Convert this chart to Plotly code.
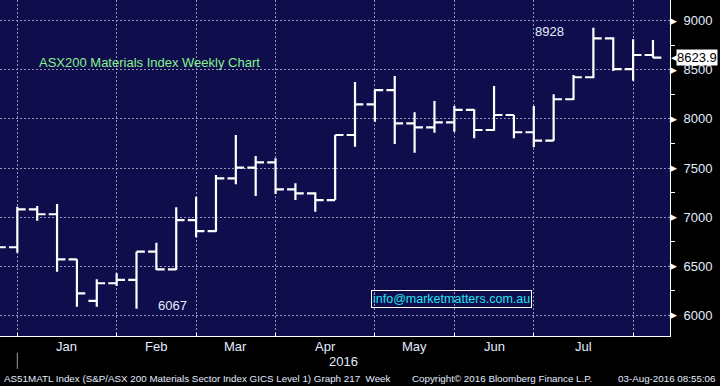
import plotly.graph_objects as go
import pandas as pd

# ---- data (weekly bars, dated by week-ending Friday) ----
week_dates = [
    "2015-12-18", "2015-12-25", "2016-01-01", "2016-01-08", "2016-01-15", "2016-01-22",
    "2016-01-29", "2016-02-05", "2016-02-12", "2016-02-19", "2016-02-26", "2016-03-04",
    "2016-03-11", "2016-03-18", "2016-03-25", "2016-04-01", "2016-04-08", "2016-04-15",
    "2016-04-22", "2016-04-29", "2016-05-06", "2016-05-13", "2016-05-20", "2016-05-27",
    "2016-06-03", "2016-06-10", "2016-06-17", "2016-06-24", "2016-07-01", "2016-07-08",
    "2016-07-15", "2016-07-22", "2016-07-29", "2016-08-05",
]
open_px = [6760, 6693, 7079, 7029, 6570, 6146, 6326, 6360, 6648, 6468, 6970, 6858,
           7395, 7503, 7558, 7283, 7242, 7173, 7836, 8149, 8294, 7955, 7914, 7965,
           8091, 7887, 8040, 7864, 7778, 8200, 8424, 8821, 8508, 8651]
high_px = [6790, 7106, 7113, 7133, 6570, 6367, 6428, 6648, 6739, 7100, 7208, 7429,
           7836, 7622, 7599, 7344, 7253, 7836, 8376, 8294, 8437, 8067, 8182, 8131,
           8098, 8335, 8040, 8131, 8251, 8447, 8928, 8831, 8811, 8803]
low_px = [6660, 6637, 6963, 6444, 6088, 6088, 6298, 6067, 6461, 6461, 6794, 6851,
          7334, 7215, 7235, 7173, 7055, 7173, 7717, 7972, 7744, 7656, 7859, 7870,
          7802, 7880, 7802, 7711, 7778, 8192, 8413, 8488, 8389, 8623.9]
close_px = [6693, 7079, 7029, 6570, 6224, 6326, 6360, 6648, 6468, 6970, 6858, 7395,
            7503, 7558, 7283, 7242, 7173, 7836, 8149, 8294, 7955, 7914, 7965, 8091,
            7887, 8040, 7864, 7778, 8200, 8424, 8821, 8508, 8651, 8623.9]

month_bounds = ["2015-12-25", "2016-01-29", "2016-02-26", "2016-03-25",
                "2016-04-29", "2016-05-27", "2016-06-24", "2016-07-29"]
month_names = ["Jan", "Feb", "Mar", "Apr", "May", "Jun", "Jul"]
y_ticks = [6000, 6500, 7000, 7500, 8000, 8500, 9000]
y_minor = [6250, 6750, 7250, 7750, 8250, 8750]
last_price = 8623.9
high_label = "8928"
low_label = "6067"

NAVY = "#0f0d4b"
GRID = "#9896b4"
LABEL = "#e4ecff"
FONT = "Liberation Sans, Arial, sans-serif"
FOOT = dict(size=9.8, color=LABEL, family=FONT)

fig = go.Figure(go.Ohlc(
    x=week_dates, open=open_px, high=high_px, low=low_px, close=close_px,
    increasing=dict(line=dict(color="white")),
    decreasing=dict(line=dict(color="white")),
    line=dict(width=2.2), tickwidth=0.42, hoverinfo="skip",
))

fig.update_layout(
    width=720, height=386,
    margin=dict(l=0, r=50, t=0, b=50),
    paper_bgcolor="black", plot_bgcolor=NAVY,
    showlegend=False,
    font=dict(family=FONT, color=LABEL, size=13),
)
fig.update_xaxes(
    type="date", range=["2015-12-18 21:30", "2016-08-11 00:00"],
    rangeslider_visible=False,
    tickmode="array", tickvals=month_bounds, showticklabels=False,
    ticks="inside", ticklen=3, tickcolor="white", tickwidth=1,
    showgrid=True, gridcolor=GRID, griddash="2px,2px", gridwidth=1,
    showline=True, linecolor="white", linewidth=1, zeroline=False,
)
fig.update_yaxes(
    side="right", range=[5789, 9211],
    tickmode="array", tickvals=y_ticks, ticks="",
    ticklabelstandoff=10,
    tickfont=dict(size=13, color=LABEL, family=FONT),
    showgrid=True, gridcolor=GRID, griddash="2px,2px", gridwidth=1,
    showline=True, linecolor="white", linewidth=1, zeroline=False,
    minor=dict(tickmode="array", tickvals=y_minor, ticks="outside", ticklen=4,
               tickcolor="white", showgrid=False),
)

ann = []
# arrow markers at major y ticks
for v in y_ticks:
    ann.append(dict(x=1, xref="paper", y=v, yref="y", text="▶", showarrow=False,
                    xanchor="left", yanchor="middle", xshift=-2,
                    font=dict(size=9, color="white", family="DejaVu Sans")))
# month labels centred between month boundaries
bounds = pd.to_datetime(month_bounds)
for i, name in enumerate(month_names):
    mid = bounds[i] + (bounds[i + 1] - bounds[i]) / 2
    ann.append(dict(x=mid, xref="x", y=-0.03, yref="paper", text=name, showarrow=False,
                    xanchor="center", yanchor="middle", font=dict(size=13, color=LABEL)))
ann += [
    dict(x=0.512, xref="paper", y=-0.077, yref="paper", text="2016", showarrow=False,
         xanchor="center", yanchor="middle", font=dict(size=13, color=LABEL)),
    dict(x=0.0552, xref="paper", y=0.814, yref="paper",
         text="ASX200 Materials Index Weekly Chart", showarrow=False,
         xanchor="left", yanchor="middle", font=dict(size=13, color="#86f28e")),
    dict(x=0.7955, xref="paper", y=0.905, yref="paper", text=high_label, showarrow=False,
         xanchor="left", yanchor="middle", font=dict(size=13, color=LABEL)),
    dict(x=0.2328, xref="paper", y=0.092, yref="paper", text=low_label, showarrow=False,
         xanchor="left", yanchor="middle", font=dict(size=13, color=LABEL)),
    dict(x=0.6746, xref="paper", y=0.110, yref="paper",
         text="info@marketmatters.com.au", showarrow=False,
         xanchor="center", yanchor="middle", bordercolor="white", borderwidth=1,
         borderpad=1, font=dict(size=12.5, color="#22e4f2")),
    # last price flag
    dict(x=1, xref="paper", y=last_price, yref="y", text="◀", showarrow=False,
         xanchor="left", yanchor="middle", xshift=-1,
         font=dict(size=11, color="white", family="DejaVu Sans")),
    dict(x=1, xref="paper", y=last_price, yref="y", text=f"{last_price:.1f}", showarrow=False,
         xanchor="left", yanchor="middle", xshift=6, bgcolor="white", borderpad=0,
         font=dict(size=13, color="black")),
    # footer
    dict(x=0.003, xref="paper", y=-0.125, yref="paper",
         text="AS51MATL Index (S&P/ASX 200 Materials Sector Index GICS Level 1) Graph 217  Week",
         showarrow=False, xanchor="left", yanchor="middle", font=FOOT),
    dict(x=0.612, xref="paper", y=-0.125, yref="paper",
         text="Copyright© 2016 Bloomberg Finance L.P.", showarrow=False,
         xanchor="left", yanchor="middle", font=FOOT),
    dict(x=1.0716, xref="paper", y=-0.125, yref="paper",
         text="03-Aug-2016 08:55:06", showarrow=False, xanchor="right", yanchor="middle",
         font=FOOT),
]
fig.update_layout(annotations=ann)

fig.add_shape(type="line", x0=month_bounds[0], x1=month_bounds[0], xref="x",
              y0=-0.05, y1=-0.098, yref="paper", line=dict(color="#a0a0a0", width=1))

fig.write_html(
    "out.html",
    config={"displayModeBar": False},
    post_script="document.body.style.margin='0';document.body.style.background='black';",
)
